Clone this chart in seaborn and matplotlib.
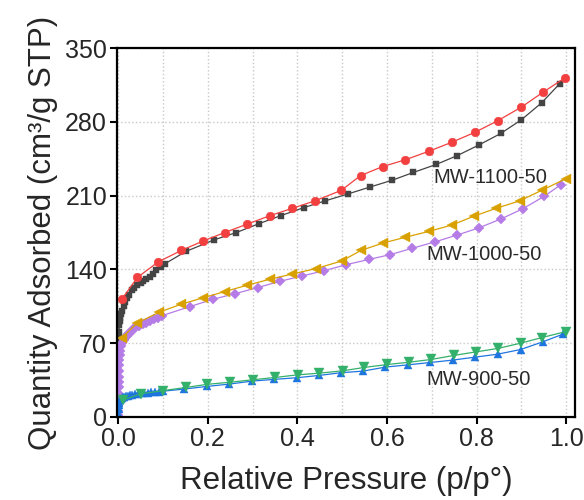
import numpy as np
import pandas as pd
import matplotlib
matplotlib.use("Agg")
import matplotlib.pyplot as plt
import seaborn as sns
from matplotlib.ticker import MultipleLocator

# ---- data ----
ads1100_x = [0.0003, 0.0006, 0.001, 0.0015, 0.002, 0.003, 0.004, 0.005, 0.007, 0.009, 0.012, 0.016,
             0.02, 0.025, 0.03, 0.036, 0.042, 0.05, 0.056, 0.063, 0.071, 0.078, 0.085, 0.095, 0.105,
             0.151, 0.214, 0.264, 0.315, 0.363, 0.415, 0.462, 0.513, 0.561, 0.611, 0.659, 0.710,
             0.757, 0.805, 0.854, 0.900, 0.945, 0.985]
ads1100_y = [45, 60, 70, 76, 81, 87, 91, 94, 98, 101, 105, 109,
             113, 116, 120, 122, 125, 127, 129, 131, 133, 136, 139, 142, 145.5,
             157, 168, 175, 183.5, 191, 198.7, 205, 211.6, 218, 224.5, 232, 239.6,
             248, 258, 269, 282, 298, 316]
des1100_x = [0.998, 0.948, 0.900, 0.847, 0.796, 0.744, 0.693, 0.641, 0.590, 0.541, 0.498, 0.439,
             0.389, 0.339, 0.288, 0.238, 0.190, 0.141, 0.089, 0.043, 0.008]
des1100_y = [322, 308, 294, 281, 270, 260.5, 252, 244, 237.5, 229, 215, 205,
             198, 191, 183, 175, 167, 158, 147, 132.4, 111.6]

ads1000_x = [0.0001, 0.0002, 0.0003, 0.0004, 0.0005, 0.0007, 0.0009, 0.0012, 0.0015, 0.002, 0.0025,
             0.003, 0.004, 0.005, 0.007, 0.009, 0.012,
             0.015, 0.019, 0.023, 0.028, 0.034, 0.040, 0.047, 0.055, 0.063, 0.071, 0.079, 0.088, 0.097,
             0.160, 0.211, 0.261, 0.311, 0.361, 0.410, 0.460, 0.509, 0.560, 0.607, 0.656, 0.706,
             0.756, 0.805, 0.855, 0.903, 0.951, 0.988]
ads1000_y = [2, 6, 10, 14, 18, 23, 28, 33, 38, 44, 49,
             54, 59, 63, 67, 70, 73,
             75, 77, 79, 81, 83, 85, 86.5, 88, 89.5, 91, 92.5, 94, 96,
             104.7, 111.6, 117, 122.7, 128.7, 133.7, 138.8, 144.5, 149.5, 154, 160, 166,
             172.5, 179.4, 188, 197.5, 209.4, 220.4]
des1000_x = [0.999, 0.945, 0.896, 0.844, 0.794, 0.744, 0.693, 0.641, 0.591, 0.542, 0.499, 0.441,
             0.388, 0.338, 0.288, 0.238, 0.189, 0.141, 0.092, 0.042, 0.008]
des1000_y = [226, 215, 205, 198, 190.5, 182, 176, 170.5, 165, 158, 148, 140.7,
             135.6, 130.6, 125, 119, 113, 107, 99.5, 89, 75]

ads900_x = [0.0002, 0.0005, 0.001, 0.0015, 0.002, 0.003, 0.004, 0.006, 0.008, 0.011, 0.014, 0.018,
            0.022, 0.027, 0.032, 0.038, 0.044, 0.051, 0.058, 0.066, 0.074, 0.082, 0.091, 0.101,
            0.147, 0.198, 0.248, 0.298, 0.348, 0.398, 0.448, 0.497, 0.546, 0.596, 0.647, 0.697,
            0.747, 0.797, 0.847, 0.898, 0.947, 0.992]
ads900_y = [1, 4, 8, 11, 13, 15, 16, 17, 17.8, 18.5, 19.2, 19.8,
            20.3, 20.8, 21.2, 21.6, 22, 22.4, 22.8, 23.2, 23.5, 23.8, 24.1, 24.5,
            26.5, 29, 31.2, 34, 35.7, 37.2, 39.4, 42, 43.5, 47.3, 49.5, 51.7,
            54, 56.8, 59.6, 64, 71.2, 78.5]
des900_x = [0.999, 0.946, 0.898, 0.847, 0.799, 0.749, 0.699, 0.650, 0.601, 0.549, 0.501, 0.449,
            0.401, 0.350, 0.300, 0.250, 0.199, 0.151, 0.100, 0.050, 0.010]
des900_y = [81, 75.4, 70, 65, 61.8, 58.4, 54.6, 52, 49.8, 47, 43.8, 41.6,
            40, 37.5, 35.3, 33, 31, 28, 25, 22, 16]

labels = ["MW-1100-50", "MW-1000-50", "MW-900-50"]
label_x = [0.703, 0.688, 0.688]
label_y = [227, 154, 36]

# ---- styling ----
sns.set_theme(style="white")
plt.rcParams['font.family'] = ['Liberation Sans', 'DejaVu Sans']

fig = plt.figure(figsize=(5.84, 5.0), dpi=100)
ax = fig.add_axes([0.200, 0.166, 0.785, 0.738])

series = [
    (ads1100_x, ads1100_y, "#444444", "s", 5.0),
    (ads1000_x, ads1000_y, "#B57BE6", "D", 4.8),
    (ads900_x, ads900_y, "#1F75E0", "^", 5.5),
    (des1100_x, des1100_y, "#F24040", "o", 6.3),
    (des1000_x, des1000_y, "#D9A100", "<", 6.5),
    (des900_x, des900_y, "#33B06A", "v", 6.5),
]
for xs, ys, col, mk, ms in series:
    df = pd.DataFrame({"x": xs, "y": ys})
    sns.lineplot(data=df, x="x", y="y", ax=ax, color=col, marker=mk, markersize=ms,
                 markeredgewidth=0.3, markeredgecolor=col, linewidth=0.9,
                 sort=False, estimator=None)

for t, lx, ly in zip(labels, label_x, label_y):
    ax.text(lx, ly, t, fontsize=14.5, va="center", ha="left", color="#2a2a2a")

ax.set_xlim(-0.003, 1.02)
ax.set_ylim(0, 350)
ax.xaxis.set_major_locator(MultipleLocator(0.2))
ax.xaxis.set_minor_locator(MultipleLocator(0.1))
ax.yaxis.set_major_locator(MultipleLocator(70))
ax.set_xticks([0, 0.2, 0.4, 0.6, 0.8, 1.0])
ax.set_xticklabels(["0.0", "0.2", "0.4", "0.6", "0.8", "1.0"])

ax.grid(True, which="both", axis="x", color="#C8C8C8", linestyle=":", linewidth=1.0)
ax.grid(True, which="major", axis="y", color="#C8C8C8", linestyle=":", linewidth=1.0)
ax.set_axisbelow(True)

for sp in ax.spines.values():
    sp.set_visible(True)
    sp.set_color("black")
    sp.set_linewidth(1.6)

ax.tick_params(axis="both", which="major", direction="out", length=5, width=1.5,
               color="black", labelsize=18, pad=2, bottom=True, left=True)
ax.tick_params(axis="x", which="minor", length=0)

ax.set_xlabel("Relative Pressure (p/p°)", fontsize=22.5, labelpad=11)
ax.set_ylabel("Quantity Adsorbed (cm³/g STP)", fontsize=22.5, labelpad=5)

fig.savefig("out.png", dpi=100)
